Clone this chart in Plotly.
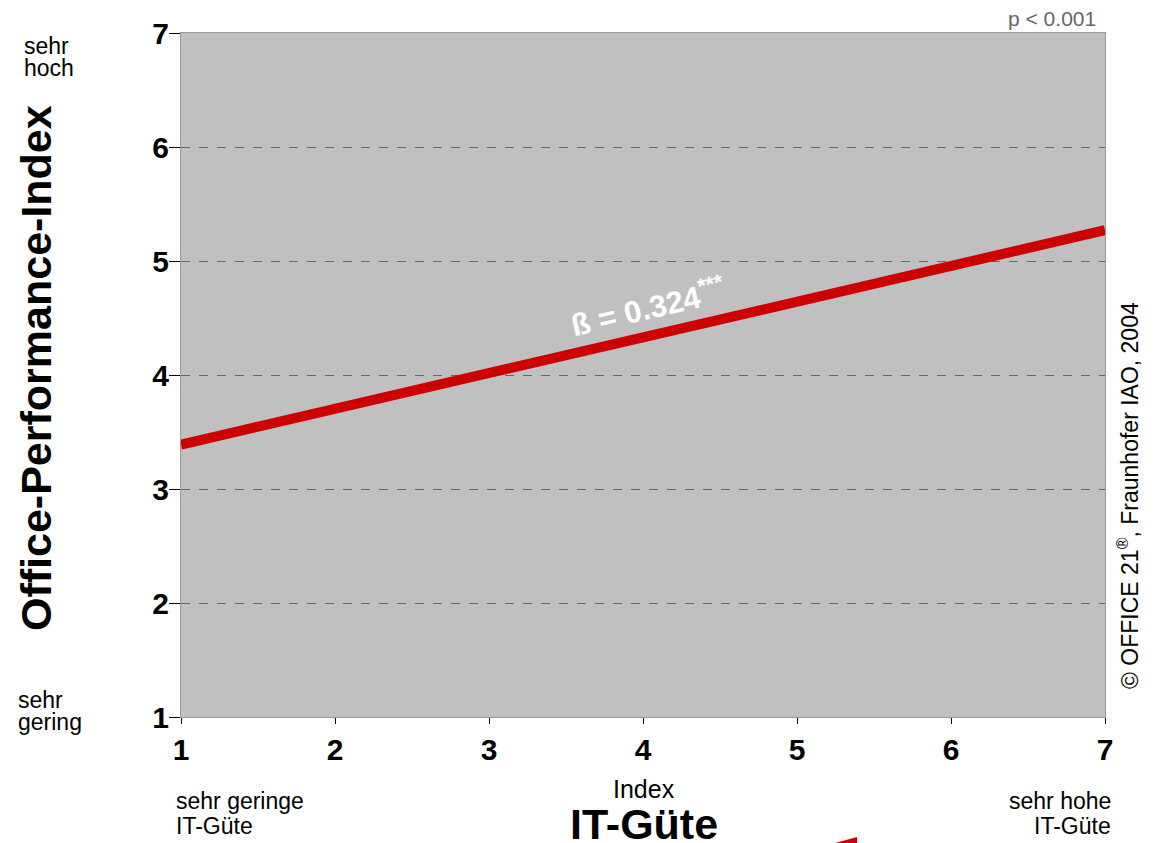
import plotly.graph_objects as go

# Data
it_index = [1, 7]
performance = [3.39, 5.27]
tick_vals = [1, 2, 3, 4, 5, 6, 7]
tick_text = ["1", "2", "3", "4", "5", "6", "7"]
beta_label = "ß = 0.324<sup>***</sup>"

W, H = 1155, 843
L, R, T, B = 181, 50, 33, 126
PW, PH = W - L - R, H - T - B

def px(x):
    return (x - L) / PW

def py(y):
    return (H - B - y) / PH

FONT = "Arial, Liberation Sans, Helvetica, sans-serif"

fig = go.Figure()
fig.add_trace(go.Scatter(
    x=it_index, y=performance, mode="lines",
    line=dict(color="#cc0000", width=10),
    hoverinfo="skip", showlegend=False,
))

axis_common = dict(
    range=[1, 7], tickvals=tick_vals, ticktext=tick_text,
    ticks="outside", tickcolor="black", tickwidth=1,
    showline=True, mirror=True, linecolor="#9a9a9a", linewidth=1,
    tickfont=dict(family=FONT, size=30, color="black", weight="bold"),
    zeroline=False, fixedrange=True,
)

fig.update_xaxes(**axis_common, ticklen=6, showgrid=False)
fig.update_yaxes(**axis_common, ticklen=11, showgrid=True,
                 gridcolor="#666666", griddash="dash", gridwidth=1,
                 ticklabelstandoff=-6)

ann = []
def add(text, x, y, size, xanchor="center", yanchor="middle", bold=False,
        color="black", angle=0, align="center"):
    ann.append(dict(
        text=text, x=px(x), y=py(y), xref="paper", yref="paper",
        xanchor=xanchor, yanchor=yanchor, showarrow=False, textangle=angle,
        align=align,
        font=dict(family=FONT, size=size, color=color,
                  weight="bold" if bold else "normal"),
    ))

add("sehr", 22, 46, 23, xanchor="left")
add("hoch", 22, 68, 23, xanchor="left")
add("sehr", 16, 700, 23, xanchor="left")
add("gering", 16, 722, 23, xanchor="left")
add("Office-Performance-Index", 36, 368, 43, bold=True, angle=-90)
add("Index", 644, 789, 25)
add("IT-Güte", 644, 824, 43, bold=True)
add("sehr geringe", 174, 801, 23, xanchor="left")
add("IT-Güte", 174, 826, 23, xanchor="left")
add("sehr hohe", 1113, 801, 23, xanchor="right")
add("IT-Güte", 1113, 826, 23, xanchor="right")
add("p < 0.001", 1098, 18, 21, xanchor="right", color="#666666")
add("© OFFICE 21<sup>®</sup>, Fraunhofer IAO, 2004", 1128, 496, 23, angle=-90)
add(beta_label, 648, 306, 31, bold=True, color="white", angle=-13)

fig.update_layout(
    width=W, height=H,
    margin=dict(l=L, r=R, t=T, b=B, pad=0),
    plot_bgcolor="#c0c0c0", paper_bgcolor="white",
    annotations=ann,
    shapes=[dict(
        type="path", xref="paper", yref="paper",
        path=f"M {px(835)} {py(843)} L {px(857)} {py(837)} L {px(857)} {py(843)} Z",
        fillcolor="#cc0000", line=dict(width=0),
    )],
)

fig.write_html(
    "out.html",
    config={"displayModeBar": False},
    post_script="document.body.style.margin='0';document.body.style.overflow='hidden';",
)
